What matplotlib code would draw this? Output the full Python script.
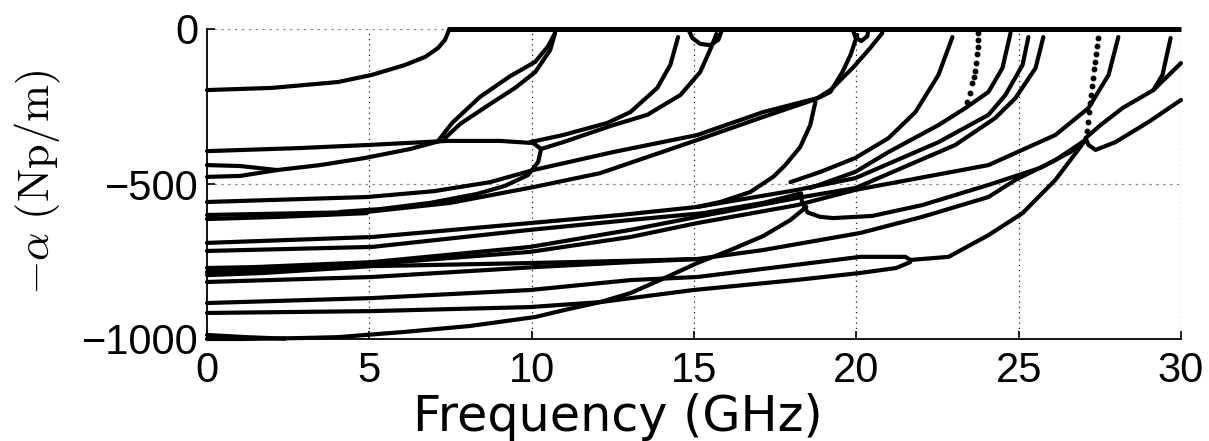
import matplotlib
matplotlib.use("Agg")
import matplotlib.pyplot as plt

plt.rcParams['mathtext.fontset'] = 'cm'

# ---- data: frequency (GHz) and -alpha (Np/m) ----
zero_f = [7.46, 30.0]
zero_a = [0, 0]

m01_f = [0, 2.0, 4.04, 5.08, 6.10, 6.72, 7.12, 7.33, 7.43, 7.46]
m01_a = [-197, -190, -171, -148, -116, -90, -61, -35, -10, 0]

m02_f = [0, 2.87, 4.99, 7.40, 9.03, 10.05, 10.29]
m02_a = [-394, -384, -374, -361, -361, -368, -387]

m03_f = [10.29, 10.20, 9.89, 9.18, 8.32, 6.87, 5.33, 4.10]
m03_a = [-387, -429, -471, -506, -532, -561, -581, -590]

m04_f = [0, 1.02, 2.16]
m04_a = [-439, -442, -455]

m05_f = [0, 1.02, 2.16]
m05_a = [-477, -474, -455]

m06_f = [2.16, 3.48, 4.87, 6.26, 7.18]
m06_a = [-455, -439, -416, -387, -361]

m07_f = [7.12, 7.55, 8.41, 9.34, 10.11, 10.51, 10.72]
m07_a = [-361, -303, -219, -152, -106, -55, -13]

m08_f = [7.33, 7.80, 8.72, 9.49, 10.11, 10.57, 10.72]
m08_a = [-352, -306, -242, -190, -139, -68, -13]

m09_f = [9.95, 10.97, 12.33, 13.04, 13.87, 14.27, 14.51]
m09_a = [-365, -342, -303, -268, -190, -116, -26]

m10_f = [10.29, 10.97, 12.51, 13.56, 14.58, 15.19, 15.56, 15.69]
m10_a = [-387, -365, -310, -277, -213, -139, -52, -16]

m11_f = [14.82, 14.95, 15.19, 15.50, 15.75, 15.87]
m11_a = [0, -29, -48, -52, -35, 0]

m12_f = [0, 4.93, 7.0, 8.72, 10.05, 12.51, 15.10, 17.13, 18.80]
m12_a = [-558, -542, -523, -494, -455, -397, -342, -268, -223]

m13_f = [0, 4.93, 7.49, 10.05, 12.11, 15.10, 17.04, 18.67]
m13_a = [-600, -590, -561, -510, -465, -358, -287, -229]

m14_f = [0, 2.25, 4.93]
m14_a = [-613, -606, -594]

m15_f = [18.67, 18.95, 19.20, 19.57, 19.82, 20.03]
m15_a = [-229, -216, -203, -139, -84, -19]

m16_f = [18.80, 19.20, 19.91, 20.43, 20.80]
m16_a = [-223, -197, -123, -61, -13]

m17_f = [18.74, 18.58, 18.27, 17.81, 17.44, 16.73, 15.81, 15.10]
m17_a = [-235, -310, -381, -439, -477, -526, -558, -574]

m18_f = [19.88, 19.97, 20.15, 20.34, 20.37]
m18_a = [0, -26, -39, -23, 0]

m19_f = [0, 5.08, 9.95, 12.73, 15.10, 18.18, 19.97, 22.53, 24.07, 24.59, 25.12, 25.30]
m19_a = [-690, -671, -626, -600, -574, -519, -481, -365, -277, -213, -116, -26]

m20_f = [0, 5.08, 9.95, 13.04, 15.28, 17.13, 18.30, 18.33, 18.50, 18.89, 19.29,
         20.49, 22.03, 24.07, 25.67, 26.59, 27.06]
m20_a = [-716, -703, -648, -616, -594, -561, -530, -560, -592, -606, -610,
         -603, -568, -503, -448, -397, -358]

m21_f = [0, 1.48, 5.08, 9.95, 13.04, 15.10, 18.18, 19.97, 23.05, 24.28, 24.90, 25.52, 25.76]
m21_a = [-771, -768, -752, -703, -648, -606, -545, -513, -374, -287, -223, -126, -26]

m22_f = [0, 1.48, 5.08, 9.95, 13.04, 15.10, 18.18, 19.97, 24.07, 26.13, 27.15, 27.77, 28.07]
m22_a = [-784, -777, -758, -719, -671, -626, -568, -519, -439, -342, -255, -148, -26]

m23_f = [0, 1.73, 5.08, 9.95, 14.05, 15.10, 17.13, 20.12, 22.03, 24.07, 24.90, 26.13, 27.06]
m23_a = [-794, -787, -765, -755, -745, -742, -713, -658, -606, -542, -487, -423, -358]

m24_f = [0, 5.08, 10.11, 13.04, 15.10]
m24_a = [-816, -800, -768, -752, -742]

m25_f = [0, 5.08, 9.95, 13.04, 15.10, 18.12, 20.12, 21.51, 21.66]
m25_a = [-884, -868, -842, -810, -800, -761, -735, -735, -745]

m26_f = [0, 5.08, 9.95, 12.11, 14.98, 18.12, 20.12, 21.23, 21.66]
m26_a = [-916, -910, -897, -881, -842, -810, -787, -771, -752]

m27_f = [21.66, 22.84, 24.07, 25.12, 26.13, 27.06]
m27_a = [-745, -735, -665, -594, -487, -358]

m28_f = [0, 1.02, 2.87, 4.04, 6.10, 8.10, 10.11, 11.03, 12.11, 13.04, 14.10,
         15.10, 16.12, 17.13, 17.97, 18.46]
m28_a = [-1000, -1000, -997, -994, -977, -958, -929, -906, -881, -852, -803,
         -755, -713, -668, -616, -574]

m29_f = [17.97, 18.89, 19.97, 20.99, 21.82, 22.53, 22.96]
m29_a = [-494, -461, -416, -352, -268, -148, -26]

m30_f = [24.75, 24.50, 24.07, 23.36]
m30_a = [-13, -126, -203, -255]

m31_f = [23.36, 22.53, 20.99, 19.97, 18.58]
m31_a = [-255, -310, -397, -461, -513]

m32_f = [29.68, 29.43, 29.15, 28.20, 27.52, 27.06]
m32_a = [-29, -148, -197, -255, -310, -352]

m33_f = [29.15, 30.0]
m33_a = [-197, -110]

m34_f = [30.0, 29.0, 27.98, 27.37, 27.15, 27.06]
m34_a = [-229, -300, -365, -390, -374, -352]

m35_f = [0, 1.2, 2.4]
m35_a = [-987, -994, -999]

# sparsely sampled (dotted-looking) branches
dots1_f = [23.76, 23.75, 23.74, 23.73, 23.70, 23.66, 23.62, 23.57, 23.50, 23.42]
dots1_a = [-13, -35, -58, -80, -110, -135, -155, -175, -205, -235]
dots2_f = [27.43, 27.41, 27.38, 27.35, 27.32, 27.29, 27.26, 27.23, 27.20, 27.17, 27.13, 27.10]
dots2_a = [-29, -55, -80, -105, -130, -158, -185, -212, -240, -268, -300, -330]

curves = [
    (m01_f, m01_a), (m02_f, m02_a), (m03_f, m03_a), (m04_f, m04_a), (m05_f, m05_a),
    (m06_f, m06_a), (m07_f, m07_a), (m08_f, m08_a), (m09_f, m09_a), (m10_f, m10_a),
    (m11_f, m11_a), (m12_f, m12_a), (m13_f, m13_a), (m14_f, m14_a), (m15_f, m15_a),
    (m16_f, m16_a), (m17_f, m17_a), (m18_f, m18_a), (m19_f, m19_a), (m20_f, m20_a),
    (m21_f, m21_a), (m22_f, m22_a), (m23_f, m23_a), (m24_f, m24_a), (m25_f, m25_a),
    (m26_f, m26_a), (m27_f, m27_a), (m28_f, m28_a), (m29_f, m29_a), (m30_f, m30_a),
    (m31_f, m31_a), (m32_f, m32_a), (m33_f, m33_a), (m34_f, m34_a), (m35_f, m35_a),
]

x_ticks = [0, 5, 10, 15, 20, 25, 30]
y_ticks = [-1000, -500, 0]

# ---- figure ----
W, H = 1209, 441
fig = plt.figure(figsize=(W / 100, H / 100), dpi=100)
ax = fig.add_axes([207 / W, (H - 339) / H, (1181 - 207) / W, (339 - 29) / H])

for xg in x_ticks[1:]:
    ax.axvline(xg, color='#222222', lw=0.9, ls=(0, (1, 3.2)), zorder=1)
for yg in [0, -500]:
    ax.axhline(yg, color='#888888', lw=0.9, ls=(0, (2, 3.5)), zorder=1)

for f, a in curves:
    ax.plot(f, a, color='black', lw=3.0, solid_capstyle='round',
            solid_joinstyle='round', zorder=3, clip_on=False)
ax.plot(zero_f, zero_a, color='black', lw=3.6, solid_capstyle='butt', zorder=3, clip_on=False)
ax.plot(dots1_f, dots1_a, ls='none', marker='o', ms=3.2, color='black', zorder=3, clip_on=False)
ax.plot(dots2_f, dots2_a, ls='none', marker='o', ms=3.2, color='black', zorder=3, clip_on=False)

ax.set_xlim(0, 30)
ax.set_ylim(-1000, 0)
ax.set_xticks(x_ticks)
ax.set_yticks(y_ticks)
ax.set_xticklabels([str(t) for t in x_ticks])
ax.set_yticklabels(['\u22121000', '\u2212500', '0'])
for s in ['top', 'right']:
    ax.spines[s].set_visible(False)
for s in ['left', 'bottom']:
    ax.spines[s].set_linewidth(1.3)
ax.tick_params(direction='in', length=6, width=1.2, labelsize=30,
               labelfontfamily='Liberation Sans')
ax.tick_params(axis='y', pad=6)
ax.tick_params(axis='x', pad=9)

fig.text(618 / W, 1 - 417 / H, 'Frequency (GHz)', ha='center', va='center',
         fontsize=35.5, family='DejaVu Sans')
fig.text(38 / W, 1 - 182 / H, r'$-\alpha\ (\mathrm{Np/m})$', ha='center', va='center',
         rotation=90, fontsize=32)

fig.savefig('out.png', dpi=100, facecolor='white')
